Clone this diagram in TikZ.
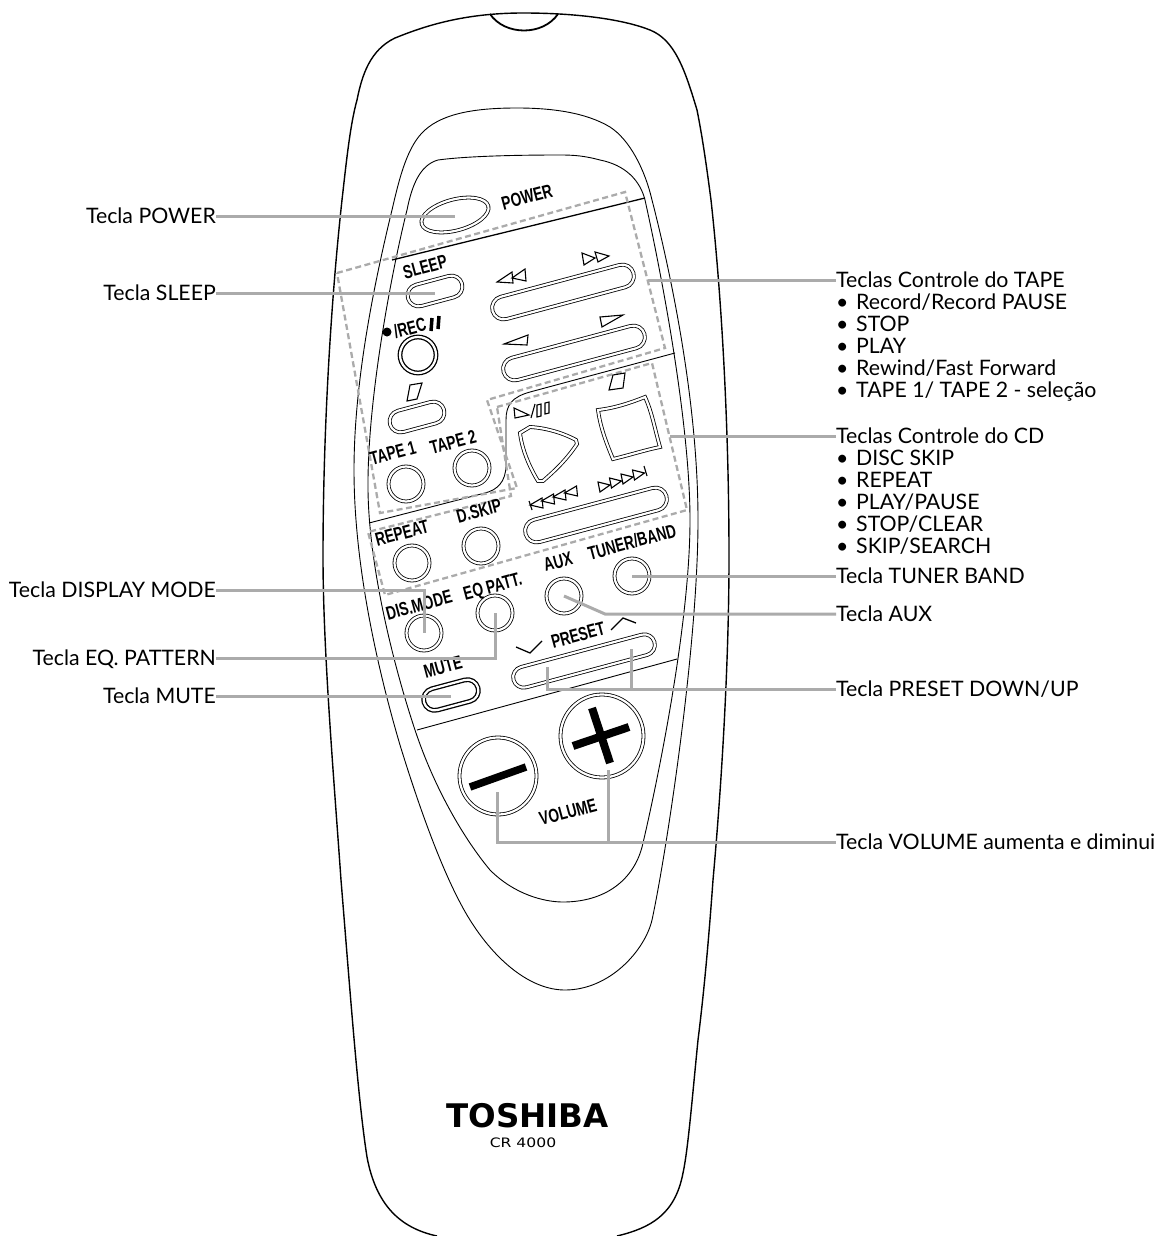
\documentclass[tikz,border=0pt]{standalone}
\usepackage{fontspec}
\setmainfont{Lato}
\newfontfamily\teclafont[FakeStretch=0.72]{Liberation Sans}
\newfontfamily\marcafont{DejaVu Sans}
\newfontfamily\modelofont[FakeStretch=1.2]{DejaVu Sans}
\usetikzlibrary{shapes.misc,shapes.geometric}
\definecolor{cinza}{HTML}{ABABAB}
\tikzset{
  chamada/.style={draw=cinza, line width=3pt, line join=miter},
  contorno/.style={draw=black, line width=0.9pt},
  grupo/.style={draw=cinza, line width=2.3pt, dash pattern=on 6pt off 3.5pt},
  redondo/.style={circle, draw=black, line width=0.8pt, double, double distance=2.2pt, minimum size=35pt, inner sep=0pt},
  alongado/.style={rounded rectangle, draw=black, line width=0.8pt, double, double distance=2.2pt, rotate=15, inner sep=0pt},
  rotulo/.style={font=\teclafont\bfseries\fontsize{19}{19}\selectfont, rotate=15, inner sep=0pt},
  esquerda/.style={anchor=east, inner sep=0pt, text height=15pt, text depth=0pt, font=\fontsize{21.3}{21.3}\selectfont},
  direita/.style={anchor=west, inner sep=0pt, text height=15pt, text depth=0pt, font=\fontsize{21.3}{21.3}\selectfont},
  icone/.style={draw=black, line width=1.1pt, line join=miter}
}
\begin{document}
\begin{tikzpicture}[x=1pt,y=-1pt]
  \useasboundingbox (0,0) rectangle (1159,1236);
  % Corpo do controle
  \draw[line width=1.4pt] (437,1236) .. controls (400,1228) and (376,1205) .. (367,1157) .. controls (358,1100) and (350,990) .. (341,880) .. controls (334,780) and (323,650) .. (323,557) .. controls (323,440) and (330,310) .. (342,200) .. controls (346,165) and (350,125) .. (357,100) .. controls (362,75) and (370,50) .. (395,38) .. controls (420,28) and (460,13) .. (523,13) .. controls (580,13) and (625,20) .. (650,30) .. controls (675,40) and (685,70) .. (697,110) .. controls (703,140) and (707,170) .. (711,200) .. controls (722,300) and (729,430) .. (729,557) .. controls (729,660) and (722,780) .. (713,880) .. controls (708,950) and (703,1000) .. (698,1040) .. controls (692,1100) and (688,1150) .. (683,1173) .. controls (675,1215) and (650,1228) .. (617,1236);
  \draw[line width=1.8pt] (490,14) .. controls (505,36) and (543,36) .. (558,14);
  % Paineis
  \draw[contorno] (517,108) .. controls (480,108) and (445,112) .. (425,130) .. controls (408,145) and (400,175) .. (392,210) .. controls (375,280) and (354,380) .. (354,470) .. controls (354,560) and (375,660) .. (400,745) .. controls (420,810) and (445,880) .. (470,920) .. controls (495,960) and (530,990) .. (565,990) .. controls (610,990) and (645,950) .. (652,920) .. controls (665,860) and (698,650) .. (698,520) .. controls (698,400) and (670,270) .. (652,200) .. controls (645,170) and (630,140) .. (610,127) .. controls (585,112) and (550,108) .. (517,108) -- cycle;
  \draw[contorno] (560,155) .. controls (500,155) and (460,157) .. (438,160) .. controls (420,165) and (412,185) .. (407,210) .. controls (392,270) and (367,400) .. (368,490) .. controls (369,570) and (395,670) .. (415,730) .. controls (435,790) and (465,840) .. (490,870) .. controls (515,895) and (545,902) .. (563,902) .. controls (605,902) and (635,880) .. (643,843) .. controls (660,770) and (690,620) .. (690,520) .. controls (690,430) and (665,290) .. (645,200) .. controls (640,180) and (625,165) .. (600,160) .. controls (585,156) and (575,155) .. (560,155) -- cycle;
  % Divisoes
  \draw[line width=1.3pt] (392,260) -- (645,198);
  \draw[line width=0.9pt] (675,353) -- (530,392) .. controls (512,397) and (506,405) .. (506,420) -- (506,465) .. controls (506,482) and (497,490) .. (485,493) -- (369,523);
  \draw[line width=0.9pt] (417,730) -- (677,659);
  % Grupos tracejados
  \draw[grupo] (337,273) -- (625,192) -- (665,348) -- (487,400) -- (517,488) -- (380,513) -- cycle;
  \draw[grupo] (497,407) -- (652,363) -- (687,510) -- (385,595) -- (368,532) -- (511,496) -- cycle;
  % Teclas
  \node[ellipse, draw=black, line width=0.8pt, double, double distance=2.2pt, rotate=15, inner sep=0pt, minimum width=69pt, minimum height=31pt] (power) at (455,215) {};
  \node[alongado, minimum width=56pt, minimum height=22pt] (sleep) at (435,291) {};
  \node[alongado, minimum width=146pt, minimum height=23pt] (rew) at (563,292) {};
  \node[alongado, minimum width=146pt, minimum height=23pt] (play) at (574,353) {};
  \node[alongado, minimum width=56pt, minimum height=22pt] (stop) at (417,417) {};
  \node[alongado, minimum width=146pt, minimum height=23pt] (skip) at (596,515) {};
  \node[alongado, minimum width=146pt, minimum height=21pt] (preset) at (584,661) {};
  \node[alongado, minimum width=56pt, minimum height=22pt, line width=1.3pt] (mute) at (451,695) {};
  \node[redondo, minimum size=36pt, line width=1.3pt] (rec) at (418,355) {};
  \node[redondo] (tapeum) at (406,484) {};
  \node[redondo] (tapedois) at (472,468) {};
  \node[redondo] (repeat) at (412,563) {};
  \node[redondo] (dskip) at (481,546) {};
  \node[redondo] (dismode) at (424,633) {};
  \node[redondo] (eqpatt) at (495,613) {};
  \node[redondo] (aux) at (564,596) {};
  \node[redondo] (tuner) at (632,576) {};
  \node[redondo, minimum size=77pt] (menos) at (498,776) {};
  \node[redondo, minimum size=83pt] (mais) at (602,736) {};
  \draw[line width=0.8pt, double, double distance=2.2pt] (530,427) .. controls (548,428) and (565,434) .. (576,440) -- (577,444) .. controls (565,462) and (552,473) .. (543,481) -- (538,481) .. controls (530,468) and (522,450) .. (520,433) -- cycle;
  \draw[line width=0.8pt, double, double distance=2.2pt] (598,410) .. controls (615,408) and (630,403) .. (645,397) .. controls (652,412) and (655,430) .. (660,447) .. controls (645,450) and (630,455) .. (613,459) .. controls (605,440) and (600,425) .. (598,410) -- cycle;
  \draw[line width=7.5pt] (470,787) -- (526,767);
  \draw[line width=8pt] (573,746) -- (629,727);
  \draw[line width=8pt] (592,708) -- (610,763);
  % Simbolos
  \draw[icone] (497,282) -- (512,272) -- (513,283) -- cycle (512,278) -- (525,269) -- (526,281) -- cycle;
  \draw[icone] (582,253) -- (595,258) -- (584,265) -- cycle (595,252) -- (609,256) -- (598,262) -- cycle;
  \draw[icone] (504,344) -- (528,335) -- (527,345) -- cycle;
  \draw[icone] (600,317) -- (623,315) -- (602,327) -- cycle;
  \draw[icone] (410,385) -- (422,383) -- (417,399) -- (407,401) -- cycle;
  \draw[icone] (613,375) -- (625,373) -- (623,388) -- (609,390) -- cycle;
  \draw[icone] (514,408) -- (529,415) -- (515,418) -- cycle;
  \draw[icone] (531,418) -- (535,404);
  \draw[icone] (537,405) -- (541,404) -- (541,416) -- (537,417) -- cycle;
  \draw[icone] (545,403) -- (549,402) -- (549,413) -- (545,414) -- cycle;
  \fill (387,332) circle (4.5pt);
  \draw[line width=3.5pt] (431,331) -- (432,318);
  \draw[line width=3.5pt] (438,329) -- (439,316);
  \draw[line width=1.3pt] (516,647) -- (530,653) -- (542,641);
  \draw[line width=1.3pt] (611,630) -- (623,618) -- (636,623);
  \foreach \i in {0,1,2,3}
    \draw[icone] ({530+11.5*\i},{505-4*\i}) -- ({542+11.5*\i},{498-4*\i}) -- ({543+11.5*\i},{508-4*\i}) -- cycle;
  \draw[icone] (529,501) -- (532,510);
  \foreach \i in {0,1,2,3}
    \draw[icone] ({598+11.5*\i},{482-4*\i}) -- ({610+11.5*\i},{485-4*\i}) -- ({600+11.5*\i},{492-4*\i}) -- cycle;
  \draw[icone] (644,466) -- (647,476);
  % Rotulos das teclas
  \node[rotulo] (tpower) at (527,197) {POWER};
  \node[rotulo] (tsleep) at (425,267) {SLEEP};
  \node[rotulo] (trec) at (410,328) {/REC};
  \node[rotulo] (ttapeum) at (393,453) {TAPE 1};
  \node[rotulo] (ttapedois) at (453,442) {TAPE 2};
  \node[rotulo] (trepeat) at (402,533) {REPEAT};
  \node[rotulo] (tdskip) at (479,511) {D.SKIP};
  \node[rotulo] (tdismode) at (419,605) {DIS.MODE};
  \node[rotulo] (teqpatt) at (493,588) {EQ PATT.};
  \node[rotulo] (taux) at (558,562) {AUX};
  \node[rotulo] (ttuner) at (632,542) {TUNER/BAND};
  \node[rotulo] (tpreset) at (578,635) {PRESET};
  \node[rotulo] (tmute) at (443,667) {MUTE};
  \node[rotulo] (tvolume) at (568,812) {VOLUME};
  \node[font=\marcafont\bfseries\fontsize{32.5}{32.5}\selectfont, inner sep=0pt] (marca) at (527.5,1116) {TOSHIBA};
  \node[font=\modelofont\fontsize{13}{13}\selectfont, inner sep=0pt] (modelo) at (523,1143) {CR 4000};
  % Legendas
  \node[esquerda] (lpower) at (216,216) {Tecla POWER};
  \node[esquerda] (lsleep) at (216,293) {Tecla SLEEP};
  \node[esquerda] (ldisplay) at (216,590) {Tecla DISPLAY MODE};
  \node[esquerda] (leq) at (216,658) {Tecla EQ. PATTERN};
  \node[esquerda] (lmute) at (216,696) {Tecla MUTE};
  \node[direita] (ltape) at (836,280) {Teclas Controle do TAPE};
  \foreach \txt [count=\i] in {Record/Record PAUSE, STOP, PLAY, Rewind/Fast Forward, TAPE 1/ TAPE 2 - seleção}
    \node[direita] (ltape\i) at (836,{280+22*\i}) {\makebox[20pt][l]{•}\txt};
  \node[direita] (lcd) at (836,436) {Teclas Controle do CD};
  \foreach \txt [count=\i] in {DISC SKIP, REPEAT, PLAY/PAUSE, STOP/CLEAR, SKIP/SEARCH}
    \node[direita] (lcd\i) at (836,{436+22*\i}) {\makebox[20pt][l]{•}\txt};
  \node[direita] (ltuner) at (836,576) {Tecla TUNER BAND};
  \node[direita] (laux) at (836,614) {Tecla AUX};
  \node[direita] (lpreset) at (836,689) {Tecla PRESET DOWN/UP};
  \node[direita] (lvolume) at (836,842) {Tecla VOLUME aumenta e diminui};
  % Chamadas
  \coordinate (fimtape) at (648,280);
  \coordinate (fimcd) at (670,436);
  \coordinate (dobraaux) at (605,614);
  \coordinate (fimdown) at (547,667);
  \coordinate (fimup) at (631,649);
  \coordinate (fimmenos) at (497,792);
  \coordinate (fimmais) at (608,770);
  \draw[chamada] (lpower.east) -- (power.center |- lpower.east);
  \draw[chamada] (lsleep.east) -- (sleep.center |- lsleep.east);
  \draw[chamada] (ldisplay.east) -| (dismode.center);
  \draw[chamada] (leq.east) -| (eqpatt.center);
  \draw[chamada] (lmute.east) -- (mute.center |- lmute.east);
  \draw[chamada] (ltape.west) -- (fimtape);
  \draw[chamada] (lcd.west) -- (fimcd);
  \draw[chamada] (ltuner.west) -- (tuner.center);
  \draw[chamada] (laux.west) -- (dobraaux) -- (aux.center);
  \draw[chamada] (lpreset.west) -| (fimdown);
  \draw[chamada] (fimup) |- (lpreset.west);
  \draw[chamada] (lvolume.west) -| (fimmenos);
  \draw[chamada] (fimmais) |- (lvolume.west);
\end{tikzpicture}
\end{document}
